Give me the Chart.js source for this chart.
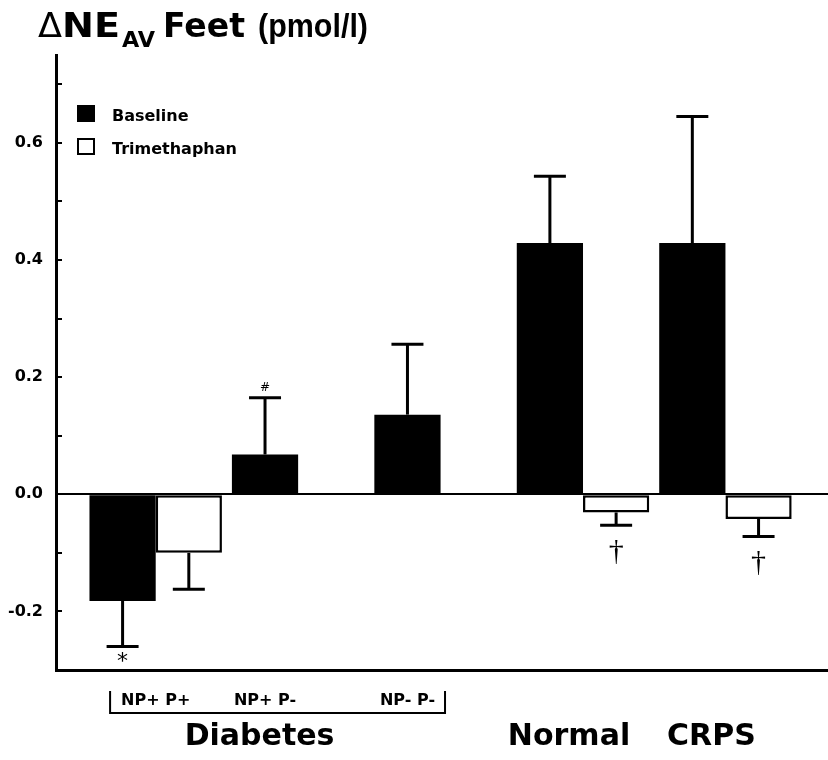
<!DOCTYPE html>
<html>
<head>
<meta charset="utf-8">
<script src="https://cdn.jsdelivr.net/npm/chart.js@4/dist/chart.umd.min.js"></script>
<style>
  html, body { margin: 0; padding: 0; background: #fff; }
  #wrap { width: 828px; height: 760px; position: relative; }
</style>
</head>
<body>
<div id="wrap"><canvas id="c" width="828" height="760"></canvas></div>
<script>
// ---- data ----
const categories   = ['NP+ P+', 'NP+ P-', 'NP- P-', 'Normal', 'CRPS'];
const groupNames   = ['Diabetes', 'Diabetes', 'Diabetes', 'Normal', 'CRPS'];
const baseline     = [-0.182, 0.068, 0.136, 0.429, 0.429];
const baselineErr  = [0.078, 0.097, 0.120, 0.114, 0.216];
const trimethaphan = [-0.100, null, null, -0.031, -0.042];
const trimErr      = [0.062, null, null, 0.022, 0.030];
const baselineMarks = ['*', '#', '', '', ''];
const trimMarks     = ['', '', '', '\u2020', '\u2020'];
const yTickLabels   = ['-0.2', '0.0', '0.2', '0.4', '0.6'];
const seriesNames   = ['Baseline', 'Trimethaphan'];

const FONT = "'DejaVu Sans', 'Liberation Sans', Arial, sans-serif";
const FONT2 = "'Liberation Sans', Arial, sans-serif";

function toPoints(arr) {
  const out = [];
  arr.forEach((v, i) => { if (v !== null) out.push({ x: i, y: v }); });
  return out;
}

// draw text stretched/compressed horizontally to a target width
function fitText(ctx, text, x, y, target) {
  const w = ctx.measureText(text).width;
  const k = target / w;
  ctx.save();
  ctx.translate(x, y);
  ctx.scale(k, 1);
  ctx.fillText(text, 0, 0);
  ctx.restore();
}

const errorPlugin = {
  id: 'errorBars',
  afterDatasetsDraw(chart) {
    const ctx = chart.ctx;
    const y = chart.scales.y;
    const errs = [baselineErr, trimErr];
    const marks = [baselineMarks, trimMarks];
    chart.data.datasets.forEach((ds, di) => {
      const meta = chart.getDatasetMeta(di);
      meta.data.forEach((bar, k) => {
        const idx = ds.data[k].x;
        const v = ds.data[k].y;
        const e = errs[di][idx];
        if (e === null || e === undefined) return;
        const end = v < 0 ? v - e : v + e;
        const py0 = y.getPixelForValue(v);
        const py1 = y.getPixelForValue(end);
        ctx.save();
        ctx.strokeStyle = '#000';
        ctx.lineWidth = 3;
        ctx.beginPath();
        ctx.moveTo(bar.x, py0);
        ctx.lineTo(bar.x, py1);
        ctx.stroke();
        ctx.beginPath();
        ctx.moveTo(bar.x - 16, py1);
        ctx.lineTo(bar.x + 16, py1);
        ctx.stroke();
        const m = marks[di][idx];
        if (m) {
          ctx.fillStyle = '#000';
          ctx.textAlign = 'center';
          if (m === '*') {
            ctx.font = "22px " + FONT;
            ctx.textBaseline = 'top';
            ctx.fillText(m, bar.x, py1 + 5);
          } else if (m === '#') {
            ctx.font = "12px " + FONT;
            ctx.textBaseline = 'bottom';
            ctx.fillText(m, bar.x, py1 - 4);
          } else {
            ctx.font = "30px 'Liberation Serif', 'DejaVu Serif', serif";
            ctx.textBaseline = 'top';
            ctx.fillText(m, bar.x, py1 + 12);
          }
        }
        ctx.restore();
      });
    });
  }
};

const decorPlugin = {
  id: 'decor',
  afterDraw(chart) {
    const ctx = chart.ctx;
    const ys = chart.scales.y;
    const xs = chart.scales.x;
    const ca = chart.chartArea;
    ctx.save();
    // inward ticks on y axis
    ctx.strokeStyle = '#000';
    ctx.lineWidth = 2;
    ys.ticks.forEach(t => {
      if (t.value > 0.71) return;
      const py = Math.round(ys.getPixelForValue(t.value));
      ctx.beginPath();
      ctx.moveTo(ca.left, py);
      ctx.lineTo(ca.left + 6, py);
      ctx.stroke();
    });

    // title
    ctx.fillStyle = '#000';
    ctx.textBaseline = 'alphabetic';
    ctx.textAlign = 'left';
    ctx.font = "33px " + FONT;
    fitText(ctx, '\u0394', 38, 37, 24);
    ctx.font = "bold 33px " + FONT;
    fitText(ctx, 'NE', 62, 37, 58);
    ctx.font = "bold 21px " + FONT;
    fitText(ctx, 'AV', 122, 47, 33);
    ctx.font = "bold 33px " + FONT;
    fitText(ctx, 'Feet', 163, 37, 82);
    ctx.font = "bold 33px " + FONT2;
    fitText(ctx, '(pmol/l)', 258, 37, 110);

    // legend
    const boxX = 77, rows = [105, 138];
    seriesNames.forEach((name, i) => {
      const ds = chart.data.datasets[i];
      if (i === 0) {
        ctx.fillStyle = ds.backgroundColor;
        ctx.fillRect(boxX, rows[i], 18, 17);
      } else {
        ctx.fillStyle = '#fff';
        ctx.fillRect(boxX, rows[i], 18, 17);
        ctx.strokeStyle = '#000';
        ctx.lineWidth = 2;
        ctx.strokeRect(boxX + 1, rows[i] + 1, 16, 15);
      }
      ctx.fillStyle = '#000';
      ctx.font = "bold 16px " + FONT;
      ctx.textBaseline = 'alphabetic';
      ctx.textAlign = 'left';
      ctx.fillText(name, 112, rows[i] + 16);
    });

    // category labels
    const base = chart.getDatasetMeta(0);
    const labelX = categories.map((c, i) => {
      if (trimethaphan[i] === null) return base.data[i].x;
      return xs.getPixelForValue(i);
    });
    ctx.font = "bold 16px " + FONT;
    ctx.textAlign = 'center';
    ctx.textBaseline = 'alphabetic';
    const diab = [];
    categories.forEach((c, i) => {
      if (groupNames[i] === 'Diabetes') {
        ctx.fillText(c, labelX[i], 705);
        const w = ctx.measureText(c).width;
        diab.push([labelX[i] - w / 2, labelX[i] + w / 2]);
      }
    });
    // bracket
    const bl = diab[0][0] - 11, br = diab[diab.length - 1][1] + 10;
    ctx.strokeStyle = '#000';
    ctx.lineWidth = 2;
    ctx.beginPath();
    ctx.moveTo(bl, 691);
    ctx.lineTo(bl, 713);
    ctx.lineTo(br, 713);
    ctx.lineTo(br, 691);
    ctx.stroke();
    // group names
    ctx.font = "bold 30px " + FONT;
    ctx.fillText('Diabetes', (bl + br) / 2 - 18, 745);
    categories.forEach((c, i) => {
      if (groupNames[i] !== 'Diabetes') ctx.fillText(groupNames[i], labelX[i] - 14, 745);
    });
    ctx.restore();
  }
};

new Chart(document.getElementById('c'), {
  type: 'bar',
  data: {
    datasets: [
      {
        label: seriesNames[0],
        data: toPoints(baseline),
        backgroundColor: '#000',
        borderWidth: 0
      },
      {
        label: seriesNames[1],
        data: toPoints(trimethaphan),
        backgroundColor: '#fff',
        borderColor: '#000',
        borderWidth: 2.5,
        borderSkipped: false
      }
    ]
  },
  options: {
    responsive: false,
    animation: false,
    devicePixelRatio: 1,
    layout: { padding: { top: 55, left: 0, right: 0, bottom: 0 } },
    datasets: { bar: { categoryPercentage: 0.93, barPercentage: 1.0 } },
    plugins: { legend: { display: false }, tooltip: { enabled: false }, title: { display: false } },
    scales: {
      x: {
        type: 'linear',
        min: -0.70,
        max: 4.72,
        offset: false,
        afterBuildTicks: s => { s.ticks = categories.map((c, i) => ({ value: i })); },
        ticks: { display: false },
        grid: { display: true, offset: false, drawOnChartArea: false, drawTicks: false },
        border: { display: true, color: '#000', width: 3 },
        afterFit: s => { s.height = 90; }
      },
      y: {
        min: -0.3,
        max: 0.75,
        ticks: {
          stepSize: 0.1,
          padding: 13,
          color: '#000',
          font: { family: FONT, weight: 'bold', size: 16 },
          callback: v => {
            const s = Number(v).toFixed(1);
            return yTickLabels.includes(s) && Math.abs(v * 10 - Math.round(v * 10)) < 1e-6 ? s : '';
          }
        },
        grid: {
          drawTicks: false,
          drawOnChartArea: true,
          color: c => (c.tick && Math.abs(c.tick.value) < 1e-9 ? '#000' : 'rgba(0,0,0,0)'),
          lineWidth: c => (c.tick && Math.abs(c.tick.value) < 1e-9 ? 2 : 0)
        },
        border: { display: true, color: '#000', width: 3 },
        afterFit: s => { s.width = 56; }
      }
    }
  },
  plugins: [errorPlugin, decorPlugin]
});
</script>
</body>
</html>
